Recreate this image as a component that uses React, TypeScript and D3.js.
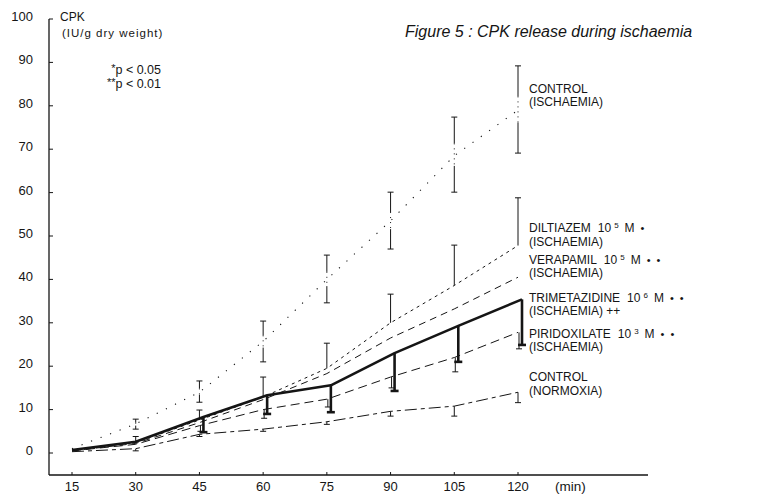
import React from "react";
import * as d3 from "d3";

const times = [15, 30, 45, 60, 75, 90, 105, 120];
const yTickValues = [0, 10, 20, 30, 40, 50, 60, 70, 80, 90, 100];

const controlIsch = [1.0, 6.7, 14.0, 25.7, 40.0, 53.5, 68.5, 79.0];
const controlIschLow = [null, 5.5, 11.7, 21.0, 34.6, 47.0, 60.1, 69.1];
const controlIschHigh = [null, 7.8, 16.6, 30.4, 45.6, 60.1, 77.4, 89.2];

const diltiazem = [0.6, 2.4, 7.6, 12.9, 19.5, 30.0, 38.6, 47.8];
const diltiazemHigh = [null, 3.8, 9.9, 17.5, 25.3, 36.6, 47.9, 58.8];

const verapamil = [0.5, 2.2, 7.0, 12.3, 18.3, 26.5, 33.2, 40.5];

const trimetazidine = [0.7, 2.6, 8.3, 13.3, 15.6, 23.0, 29.3, 35.4];
const trimetazidineLow = [null, null, 4.8, 9.0, 9.4, 14.3, 21.0, 24.9];

const piridoxilate = [0.5, 2.0, 6.3, 10.0, 12.4, 17.5, 22.0, 27.8];
const piridoxilateLow = [null, null, 5.0, 8.0, 10.6, 15.0, 18.7, 24.0];

const normoxia = [0.3, 1.0, 4.3, 5.5, 7.2, 9.6, 10.8, 14.0];
const normoxiaLow = [null, 0.5, 3.8, 5.0, 6.6, 8.5, 8.5, 11.6];

const legendNames = [
  { y: 93, main: "CONTROL" },
  { y: 106, main: "(ISCHAEMIA)" },
  { y: 232, main: "DILTIAZEM", sup: "5", dots: 1 },
  { y: 246, main: "(ISCHAEMIA)" },
  { y: 264, main: "VERAPAMIL", sup: "5", dots: 2 },
  { y: 277, main: "(ISCHAEMIA)" },
  { y: 302, main: "TRIMETAZIDINE", sup: "6", dots: 2 },
  { y: 315, main: "(ISCHAEMIA)  ++" },
  { y: 338, main: "PIRIDOXILATE", sup: "3", dots: 2 },
  { y: 351, main: "(ISCHAEMIA)" },
  { y: 381, main: "CONTROL" },
  { y: 395, main: "(NORMOXIA)" },
];

const FONT = "'Liberation Sans', Arial, Helvetica, sans-serif";
const INK = "#151515";

export default function App() {
  const x = d3.scaleLinear().domain([15, 120]).range([72, 518]);
  const y = d3.scaleLinear().domain([0, 100]).range([453, 19]);
  const axisX = 49;
  const axisY = 475;
  const axisRight = 648;
  const trimOff = (t: number) => (t >= 45 ? 4 : 0);

  const mkLine = (vals: number[], off: (t: number) => number = () => 0) =>
    d3
      .line<number>()
      .x((_, i) => x(times[i]) + off(times[i]))
      .y((v) => y(v))(vals) || "";

  const bar = (
    key: string,
    t: number,
    lo: number,
    hi: number,
    opts: { w?: number; cap?: number; dx?: number; capTop?: boolean; capBottom?: boolean } = {}
  ) => {
    const w = opts.w ?? 1;
    const cap = opts.cap ?? 3;
    const cx = x(t) + (opts.dx ?? 0);
    const y1 = y(hi);
    const y2 = y(lo);
    return (
      <g key={key} stroke={INK} strokeWidth={w}>
        <line x1={cx} x2={cx} y1={y1} y2={y2} />
        {opts.capTop !== false && <line x1={cx - cap} x2={cx + cap} y1={y1} y2={y1} />}
        {opts.capBottom !== false && <line x1={cx - cap} x2={cx + cap} y1={y2} y2={y2} />}
      </g>
    );
  };

  const ischBar = (i: number) => {
    const lo = controlIschLow[i];
    const hi = controlIschHigh[i];
    if (lo == null || hi == null) return null;
    const cx = x(times[i]);
    const y1 = y(hi);
    const y2 = y(lo);
    const seg = (y2 - y1) * 0.35;
    return (
      <g key={"ib" + i} stroke={INK} strokeWidth={1}>
        <line x1={cx - 3} x2={cx + 3} y1={y1} y2={y1} />
        <line x1={cx} x2={cx} y1={y1} y2={y1 + seg} />
        <line x1={cx} x2={cx} y1={y1 + seg} y2={y2 - seg} strokeDasharray="1 4" />
        <line x1={cx} x2={cx} y1={y2 - seg} y2={y2} />
        <line x1={cx - 3} x2={cx + 3} y1={y2} y2={y2} />
      </g>
    );
  };

  return (
    <svg
      width={758}
      height={497}
      style={{ position: "absolute", left: 0, top: 0, background: "#fff" }}
      fontFamily={FONT}
    >
      <rect width={758} height={497} fill="#fff" />
      {/* axes */}
      <line x1={axisX} x2={axisX} y1={y(100)} y2={axisY} stroke={INK} strokeWidth={1.3} />
      <line x1={axisX} x2={axisRight} y1={axisY} y2={axisY} stroke={INK} strokeWidth={1.4} />
      {yTickValues.map((v) => (
        <g key={"yt" + v}>
          <line x1={axisX} x2={axisX + 4} y1={y(v)} y2={y(v)} stroke={INK} strokeWidth={1} />
          <text x={33} y={y(v) + 2} textAnchor="end" fontSize={13} fill={INK}>
            {v}
          </text>
        </g>
      ))}
      {times.map((t) => (
        <g key={"xt" + t}>
          <line x1={x(t)} x2={x(t)} y1={axisY} y2={axisY - 3} stroke={INK} strokeWidth={1} />
          <text x={x(t)} y={axisY + 16} textAnchor="middle" fontSize={13} fill={INK}>
            {t}
          </text>
        </g>
      ))}
      <text x={555} y={axisY + 16} fontSize={13.5} fill={INK}>
        (min)
      </text>

      {/* titles */}
      <text x={60} y={21} fontSize={12} fill={INK}>
        CPK
      </text>
      <text x={62} y={37} fontSize={11.5} letterSpacing={1} fill={INK}>
        (IU/g dry weight)
      </text>
      <text x={161} y={74} textAnchor="end" fontSize={12.5} fill={INK}>
        <tspan fontSize={11} dy={-2}>*</tspan>
        <tspan dy={2}>p &lt; 0.05</tspan>
      </text>
      <text x={161} y={88} textAnchor="end" fontSize={12.5} fill={INK}>
        <tspan fontSize={11} dy={-2}>**</tspan>
        <tspan dy={2}>p &lt; 0.01</tspan>
      </text>
      <text x={405} y={37} fontSize={16} fontStyle="italic" fill={INK}>
        Figure 5 : CPK release during ischaemia
      </text>

      {/* lines */}
      <path d={mkLine(controlIsch)} fill="none" stroke={INK} strokeWidth={1.1} strokeDasharray="1.2 9" />
      <path d={mkLine(diltiazem)} fill="none" stroke={INK} strokeWidth={1} strokeDasharray="3 4" />
      <path d={mkLine(verapamil)} fill="none" stroke={INK} strokeWidth={1} strokeDasharray="7 5" />
      <path d={mkLine(piridoxilate)} fill="none" stroke={INK} strokeWidth={1} strokeDasharray="9 5" />
      <path d={mkLine(normoxia)} fill="none" stroke={INK} strokeWidth={1} strokeDasharray="12 4 4 4" />
      <path d={mkLine(trimetazidine, trimOff)} fill="none" stroke={INK} strokeWidth={2.6} strokeLinejoin="round" />

      {/* error bars */}
      {times.map((_, i) => ischBar(i))}
      {times.map((t, i) =>
        diltiazemHigh[i] == null
          ? null
          : bar("db" + i, t, diltiazem[i], diltiazemHigh[i] as number, { capBottom: false })
      )}
      {times.map((t, i) =>
        piridoxilateLow[i] == null
          ? null
          : bar("pb" + i, t, piridoxilateLow[i] as number, piridoxilate[i], { capTop: false, dx: 1 })
      )}
      {times.map((t, i) =>
        normoxiaLow[i] == null
          ? null
          : bar("nb" + i, t, normoxiaLow[i] as number, normoxia[i], { capTop: false })
      )}
      {times.map((t, i) =>
        trimetazidineLow[i] == null
          ? null
          : bar("tb" + i, t, trimetazidineLow[i] as number, trimetazidine[i], {
              w: 2.6,
              cap: 4,
              dx: trimOff(t),
              capTop: false,
            })
      )}

      {/* legend labels */}
      {legendNames.map((l, i) => (
        <text key={"lg" + i} x={529} y={l.y} fontSize={12} fill={INK}>
          {l.main}
          {l.sup && <tspan dx={7}>10</tspan>}
          {l.sup && (
            <tspan dx={3} dy={-4} fontSize={8}>
              {l.sup}
            </tspan>
          )}
          {l.sup && (
            <tspan dx={6} dy={4}>
              M
            </tspan>
          )}
          {l.dots &&
            d3.range(l.dots).map((k) => (
              <tspan key={k} dx={6} fontSize={11}>
                {"\u2022"}
              </tspan>
            ))}
        </text>
      ))}
    </svg>
  );
}
